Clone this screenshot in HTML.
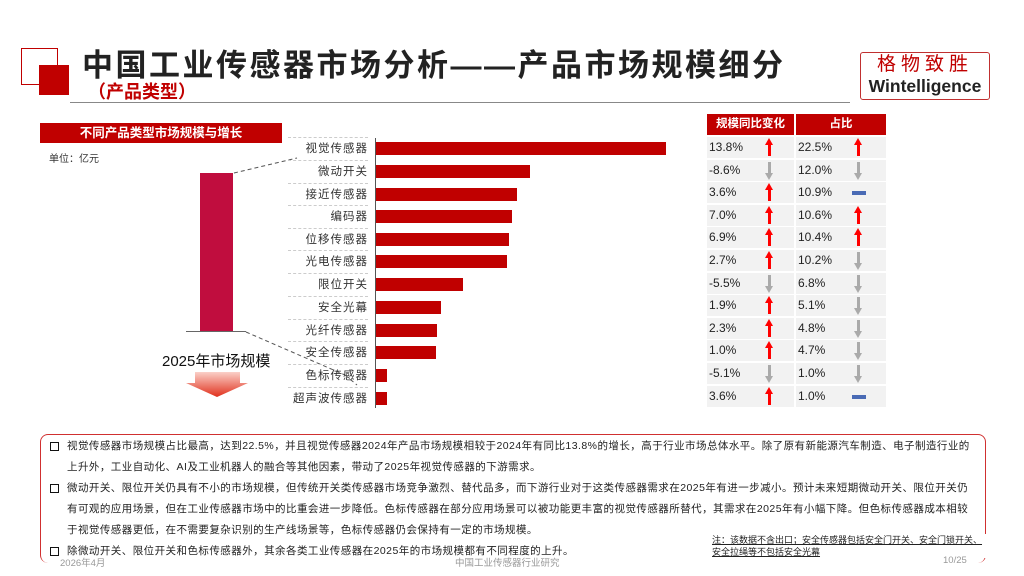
<!DOCTYPE html>
<html><head><meta charset="utf-8"><style>
body{margin:0;width:1024px;height:576px;position:relative;background:#fff;font-family:"Liberation Sans","Noto Sans CJK SC",sans-serif;overflow:hidden}
.a{position:absolute}
.lbl{position:absolute;left:288px;width:80px;text-align:right;font-size:11.5px;color:#333;letter-spacing:1px;height:22px;line-height:22px;border-top:1px dashed #ccc}
.bar{position:absolute;left:376px;height:13px;background:#c00000}
.c{position:absolute;background:#f2f2f2;height:21px;line-height:21px;font-size:12px;color:#222;padding-left:2px;box-sizing:border-box}
.up,.dn{position:absolute;width:3px;height:12px}
.up{background:#f00}.dn{background:#aaa}
.up:before{content:"";position:absolute;left:-3px;top:-6px;border-left:4.5px solid transparent;border-right:4.5px solid transparent;border-bottom:7px solid #f00}
.dn:after{content:"";position:absolute;left:-3px;bottom:-6px;border-left:4.5px solid transparent;border-right:4.5px solid transparent;border-top:7px solid #aaa}
.eq{position:absolute;width:14px;height:4px;background:#4a6bb5}
.p{font-size:10.5px;color:#222;line-height:21px;padding-left:17px;position:relative;letter-spacing:0.45px}
.p:before{content:"";position:absolute;left:0;top:6px;width:7px;height:7px;border:1.5px solid #111}
</style></head><body>
<div class="a" style="left:21px;top:48px;width:35px;height:35px;border:1.5px solid #c00000"></div>
<div class="a" style="left:39px;top:65px;width:30px;height:30px;background:#c00000"></div>
<div class="a" style="left:82px;top:40px;font-size:31px;font-weight:bold;color:#222;letter-spacing:2.5px;white-space:nowrap">中国工业传感器市场分析——产品市场规模细分</div>
<div class="a" style="left:88px;top:78px;font-size:18px;font-weight:bold;color:#c00000">（产品类型）</div>
<div class="a" style="left:70px;top:102px;width:780px;height:1px;background:#888"></div>
<div class="a" style="left:860px;top:52px;width:128px;height:46px;border:1.5px solid #c03030;border-radius:3px;text-align:center">
<div style="font-size:19px;color:#c00000;letter-spacing:5px;line-height:23px">格物致胜</div>
<div style="font-size:17.5px;font-weight:bold;color:#222;line-height:20px">Wintelligence</div></div>
<div class="a" style="left:40px;top:123px;width:242px;height:20px;background:#c00000;color:#fff;font-size:12.5px;font-weight:bold;text-align:center;line-height:20px">不同产品类型市场规模与增长</div>
<div class="a" style="left:49px;top:150px;font-size:10px;color:#333">单位：亿元</div>
<div class="a" style="left:200px;top:173px;width:33px;height:158px;background:#c00d3e"></div>
<div class="a" style="left:186px;top:331px;width:60px;height:1px;background:#666"></div>
<svg class="a" style="left:0;top:0" width="1024" height="576"><path d="M234 173 L297 158 M246 332 L345 375 M345 375 L357 385" stroke="#555" stroke-dasharray="4,3" fill="none"/>
<defs><linearGradient id="g" x1="0" y1="0" x2="0" y2="1"><stop offset="0" stop-color="#fbd0c8"/><stop offset="1" stop-color="#e0301c"/></linearGradient></defs>
<path d="M195 372 L240 372 L240 383 L248 383 L217 397 L186 383 L195 383 Z" fill="url(#g)"/></svg>
<div class="a" style="left:162px;top:350px;font-size:15px;color:#111">2025年市场规模</div>
<div class="a" style="left:375px;top:138px;width:1px;height:270px;background:#555"></div>
<div class="lbl" style="top:137px">视觉传感器</div><div class="lbl" style="top:160px">微动开关</div><div class="lbl" style="top:183px">接近传感器</div><div class="lbl" style="top:205px">编码器</div><div class="lbl" style="top:228px">位移传感器</div><div class="lbl" style="top:250px">光电传感器</div><div class="lbl" style="top:273px">限位开关</div><div class="lbl" style="top:296px">安全光幕</div><div class="lbl" style="top:319px">光纤传感器</div><div class="lbl" style="top:341px">安全传感器</div><div class="lbl" style="top:364px">色标传感器</div><div class="lbl" style="top:387px">超声波传感器</div>
<div class="bar" style="top:142px;width:290px"></div><div class="bar" style="top:165px;width:154px"></div><div class="bar" style="top:188px;width:141px"></div><div class="bar" style="top:210px;width:136px"></div><div class="bar" style="top:233px;width:133px"></div><div class="bar" style="top:255px;width:131px"></div><div class="bar" style="top:278px;width:87px"></div><div class="bar" style="top:301px;width:65px"></div><div class="bar" style="top:324px;width:61px"></div><div class="bar" style="top:346px;width:60px"></div><div class="bar" style="top:369px;width:11px"></div><div class="bar" style="top:392px;width:11px"></div>
<div class="a" style="left:707px;top:114px;width:87px;height:21px;background:#c00000;color:#fff;font-size:11.5px;font-weight:bold;text-align:center;line-height:21px">规模同比变化</div>
<div class="a" style="left:796px;top:114px;width:90px;height:21px;background:#c00000;color:#fff;font-size:11.5px;font-weight:bold;text-align:center;line-height:21px">占比</div>
<div id="t"></div>
<script>
var d=[["13.8%","u","22.5%","u"],["-8.6%","d","12.0%","d"],["3.6%","u","10.9%","e"],["7.0%","u","10.6%","u"],["6.9%","u","10.4%","u"],["2.7%","u","10.2%","d"],["-5.5%","d","6.8%","d"],["1.9%","u","5.1%","d"],["2.3%","u","4.8%","d"],["1.0%","u","4.7%","d"],["-5.1%","d","1.0%","d"],["3.6%","u","1.0%","e"]];
var h="";d.forEach(function(r,i){var y=137+i*22.6;
h+='<div class="c" style="left:707px;top:'+y+'px;width:87px">'+r[0]+'</div><div class="c" style="left:796px;top:'+y+'px;width:90px">'+r[2]+'</div>';
function ic(t,x){if(t=="u")return '<div class="up" style="left:'+x+'px;top:'+(y+7)+'px"></div>';if(t=="d")return '<div class="dn" style="left:'+x+'px;top:'+(y+2)+'px"></div>';return '<div class="eq" style="left:'+(x-5)+'px;top:'+(y+9)+'px"></div>';}
h+=ic(r[1],768)+ic(r[3],857);});
document.getElementById("t").innerHTML=h;
</script>
<div class="a" style="left:40px;top:434px;width:944px;height:128px;border:1px solid #d03030;border-radius:8px;border-bottom:none"></div>
<div class="a" style="left:50px;top:436px;width:925px">
<div class="p">视觉传感器市场规模占比最高，达到22.5%，并且视觉传感器2024年产品市场规模相较于2024年有同比13.8%的增长，高于行业市场总体水平。除了原有新能源汽车制造、电子制造行业的上升外，工业自动化、AI及工业机器人的融合等其他因素，带动了2025年视觉传感器的下游需求。</div>
<div class="p">微动开关、限位开关仍具有不小的市场规模，但传统开关类传感器市场竞争激烈、替代品多，而下游行业对于这类传感器需求在2025年有进一步减小。预计未来短期微动开关、限位开关仍有可观的应用场景，但在工业传感器市场中的比重会进一步降低。色标传感器在部分应用场景可以被功能更丰富的视觉传感器所替代，其需求在2025年有小幅下降。但色标传感器成本相较于视觉传感器更低，在不需要复杂识别的生产线场景等，色标传感器仍会保持有一定的市场规模。</div>
<div class="p">除微动开关、限位开关和色标传感器外，其余各类工业传感器在2025年的市场规模都有不同程度的上升。</div>
</div>
<div class="a" style="left:712px;top:534px;font-size:9px;color:#222;line-height:12px;text-decoration:underline;width:275px;background:#fff">注：该数据不含出口；安全传感器包括安全门开关、安全门锁开关、安全拉绳等不包括安全光幕</div>
<div class="a" style="left:60px;top:555px;font-size:9.5px;color:#999">2026年4月</div>
<div class="a" style="left:455px;top:555px;font-size:9.5px;color:#999">中国工业传感器行业研究</div>
<div class="a" style="left:943px;top:555px;font-size:9.5px;color:#999">10/25</div>
</body></html>
